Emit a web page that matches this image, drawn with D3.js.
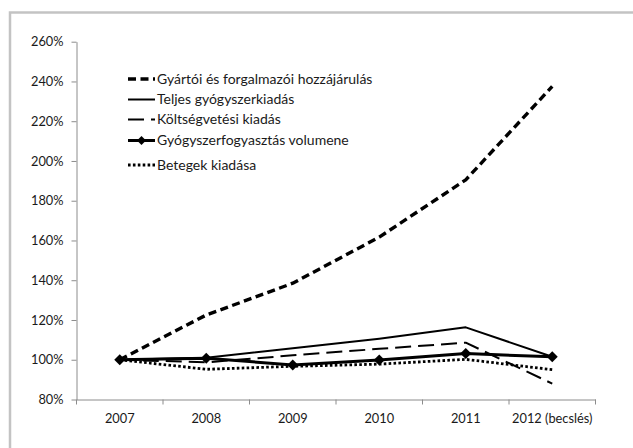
<!DOCTYPE html>
<html><head><meta charset="utf-8">
<script src="https://cdn.jsdelivr.net/npm/d3@7"></script>
<style>
html,body{margin:0;padding:0;background:#fff;}
svg{display:block;}
text{font-family:Lato,"Open Sans",sans-serif;fill:#1a1a1a;}
</style></head>
<body>
<svg id="chart" width="633" height="448"></svg>
<script>
const categories = ["2007","2008","2009","2010","2011","2012 (becslés)"];
const gyartoi    = [1.00, 1.225, 1.385, 1.617, 1.905, 2.375];
const teljes     = [1.00, 1.010, 1.058, 1.106, 1.163, 1.015];
const koltseg    = [1.00, 0.987, 1.022, 1.055, 1.086, 0.880];
const volumene   = [1.00, 1.008, 0.974, 0.999, 1.031, 1.015];
const betegek    = [1.00, 0.952, 0.967, 0.978, 1.002, 0.950];
const seriesNames = [
  "Gyártói és forgalmazói hozzájárulás",
  "Teljes gyógyszerkiadás",
  "Költségvetési kiadás",
  "Gyógyszerfogyasztás volumene",
  "Betegek kiadása"
];
const yTicks = [0.8,1.0,1.2,1.4,1.6,1.8,2.0,2.2,2.4,2.6];

const series = [
  {name:seriesNames[0], values:gyartoi,  width:3.4, dash:"8,4.5", marker:false},
  {name:seriesNames[1], values:teljes,   width:2,   dash:null,    marker:false},
  {name:seriesNames[2], values:koltseg,  width:2,   dash:"16,7",  marker:false},
  {name:seriesNames[3], values:volumene, width:3,   dash:null,    marker:true},
  {name:seriesNames[4], values:betegek,  width:2.8, dash:"2.6,2.3", marker:false}
];

const svg = d3.select("#chart");

// outer frame (only left/top edges visible in the crop)
svg.append("rect").attr("x",10).attr("y",12.5).attr("width",640).attr("height",460)
  .attr("fill","none").attr("stroke","#c3c3c3").attr("stroke-width",2.5);

const x0 = 76.5, x1 = 595.5, yTop = 41.7, yBot = 399.5;
const band = d3.scaleBand().domain(categories).range([x0,x1]).padding(0);
const x = d => band(d) + band.bandwidth()/2;
const y = d3.scaleLinear().domain([0.8,2.6]).range([yBot,yTop]);

// y axis
const yAxis = d3.axisLeft(y).tickValues(yTicks).tickSize(5).tickSizeOuter(0)
  .tickFormat(d => Math.round(d*100)+"%");
const gy = svg.append("g").attr("transform",`translate(${x0},0)`).call(yAxis);
gy.select(".domain").attr("stroke","#8c8c8c");
gy.selectAll(".tick line").attr("stroke","#8c8c8c");
gy.selectAll(".tick text").attr("x",-13).attr("font-size","12.8px").attr("fill","#1a1a1a")
  .attr("font-family","Lato,'Open Sans',sans-serif");

// x axis
const xAxis = d3.axisBottom(band).tickSize(0).tickSizeOuter(0);
const gx = svg.append("g").attr("transform",`translate(0,${yBot})`).call(xAxis);
gx.select(".domain").attr("stroke","#8c8c8c");
gx.selectAll(".tick text").attr("y",14).attr("dy","0.71em").attr("font-size","12.8px")
  .attr("fill","#1a1a1a").attr("font-family","Lato,'Open Sans',sans-serif");
// tick marks at band boundaries
const bounds = categories.map(c => band(c)).concat([x1]);
gx.selectAll("line.bt").data(bounds).enter().append("line").attr("class","bt")
  .attr("x1",d=>d).attr("x2",d=>d).attr("y1",0).attr("y2",5).attr("stroke","#8c8c8c");

// lines
const line = d3.line().x((d,i)=>x(categories[i])).y(d=>y(d));
series.forEach(s=>{
  svg.append("path").datum(s.values).attr("d",line).attr("fill","none")
    .attr("stroke","#000").attr("stroke-width",s.width)
    .attr("stroke-dasharray",s.dash).attr("stroke-linejoin","round");
  if(s.marker){
    svg.selectAll(null).data(s.values).enter().append("path")
      .attr("d",d3.symbol(d3.symbolSquare,60)())
      .attr("transform",(d,i)=>`translate(${x(categories[i])},${y(d)}) rotate(45)`)
      .attr("fill","#000");
  }
});

// legend
const legY = [79, 99.5, 119.5, 140.5, 165];
const lg = svg.append("g");
series.forEach((s,i)=>{
  const g = lg.append("g").attr("transform",`translate(0,${legY[i]})`);
  g.append("line").attr("x1",128).attr("x2",155).attr("y1",0).attr("y2",0)
    .attr("stroke","#000").attr("stroke-width",s.width).attr("stroke-dasharray",s.dash);
  if(s.marker){
    g.append("path").attr("d",d3.symbol(d3.symbolSquare,40)())
      .attr("transform","translate(141.5,0) rotate(45)").attr("fill","#000");
  }
  g.append("text").attr("x",157).attr("y",0).attr("dy","0.35em")
    .attr("font-size","14px").text(s.name);
});
</script>
</body></html>
